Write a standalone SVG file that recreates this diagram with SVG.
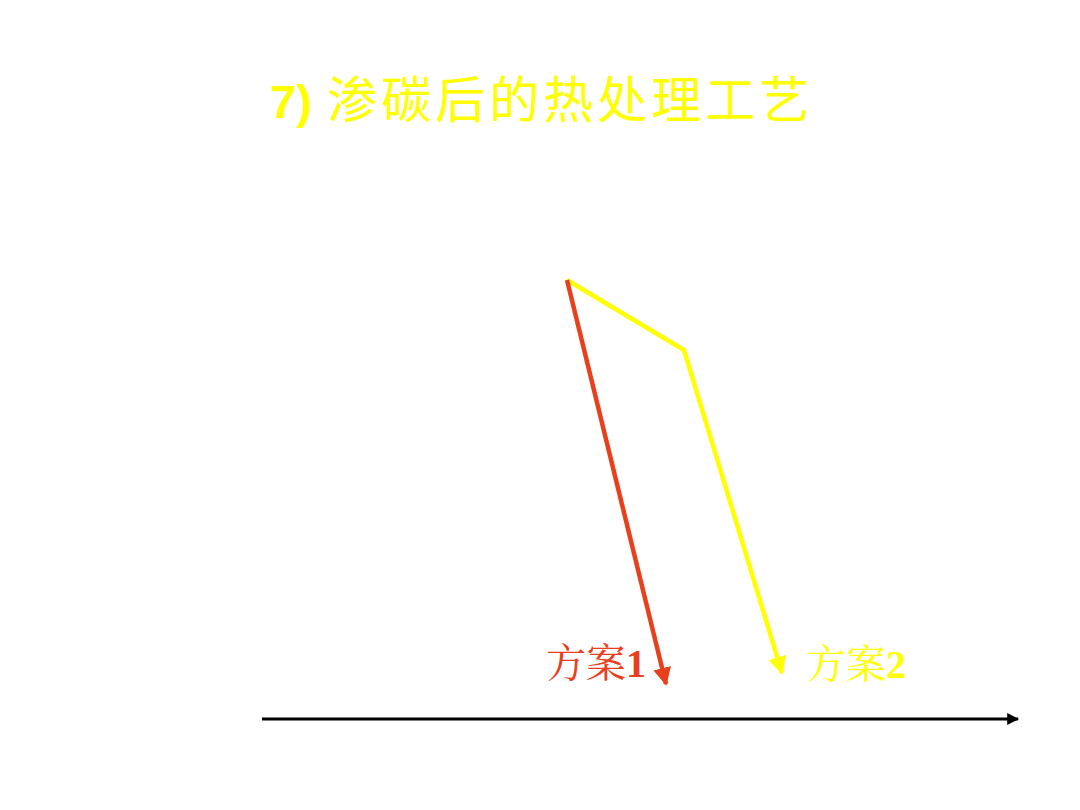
<svg xmlns="http://www.w3.org/2000/svg" width="1080" height="810" viewBox="0 0 1080 810">
<defs>
<style>
.title{font-family:"Liberation Sans","Noto Sans CJK SC",sans-serif;fill:#FFFF00}
.lbl{font-family:"Liberation Serif","Noto Serif CJK SC","Noto Sans CJK SC",serif;font-size:40px}
</style>
<marker id="ar" viewBox="0 0 10 10" refX="9" refY="5" markerWidth="4" markerHeight="4" orient="auto" markerUnits="strokeWidth"><path d="M0,0 L10,5 L0,10 z" fill="#E8401C"/></marker>
<marker id="ay" viewBox="0 0 10 10" refX="9" refY="5" markerWidth="4" markerHeight="4" orient="auto" markerUnits="strokeWidth"><path d="M0,0 L10,5 L0,10 z" fill="#FFFF00"/></marker>
<marker id="ak" viewBox="0 0 10 10" refX="9" refY="5" markerWidth="5" markerHeight="4" orient="auto" markerUnits="strokeWidth"><path d="M0,0 L10,5 L0,10 z" fill="#000"/></marker>
</defs>
<rect width="1080" height="810" fill="#fff"/>
<g id="title">
<text class="title" x="270" y="118" font-size="47" font-weight="bold">7)</text>
<text class="title" x="327" y="118" font-size="50" letter-spacing="4">渗碳后的热处理工艺</text>
</g>
<g id="connectors" fill="none" stroke-linejoin="miter">
<polyline points="567,280 684,350 782,673" stroke="#FFFF00" stroke-width="4.5" marker-end="url(#ay)"/>
<line x1="567" y1="280" x2="666" y2="684" stroke="#E8401C" stroke-width="4.5" marker-end="url(#ar)"/>
<line x1="262" y1="719" x2="1018" y2="719" stroke="#000" stroke-width="3" marker-end="url(#ak)"/>
</g>
<g id="label1"><text class="lbl" x="546" y="677" fill="#E8401C">方案<tspan font-weight="bold">1</tspan></text></g>
<g id="label2"><text class="lbl" x="806" y="678" fill="#FFFF00">方案<tspan font-weight="bold">2</tspan></text></g>
</svg>
